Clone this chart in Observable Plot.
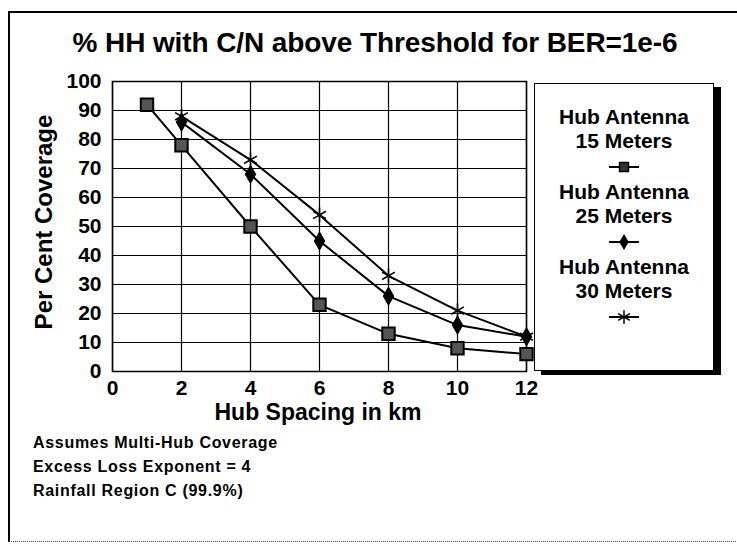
<!DOCTYPE html>
<html>
<head>
<meta charset="utf-8">
<script src="https://cdn.jsdelivr.net/npm/d3@7"></script>
<script src="https://cdn.jsdelivr.net/npm/@observablehq/plot@0.6"></script>
<style>
  html, body { margin: 0; padding: 0; background: #fff; }
  #wrap { position: relative; width: 737px; height: 546px; overflow: hidden;
          font-family: "Liberation Sans", Arial, sans-serif; font-weight: bold; color: #000; }
  #frame { position: absolute; left: 8px; top: 11px; width: 740px; height: 528px;
           border-left: 2px solid #000; border-top: 2px solid #000; border-bottom: 1px dotted #555; }
  #title { position: absolute; left: 0; width: 750px; top: 27px; text-align: center; font-size: 28px; letter-spacing: -0.1px; }
  #ylab { position: absolute; left: 44px; top: 222px; font-size: 24px; transform: translate(-50%, -50%) rotate(-90deg); white-space: nowrap; }
  #xlab { position: absolute; left: 318px; top: 399px; font-size: 23px; transform: translateX(-50%); white-space: nowrap; }
  #notes { position: absolute; left: 33px; top: 431px; font-size: 16px; line-height: 24px; letter-spacing: 0.7px; }
  #legend { position: absolute; left: 534px; top: 83px; width: 178px; height: 286px;
            border: 1.5px solid #000; box-shadow: 7px 4px 0 #000; background: #fff; text-align: center; font-size: 21px; }
  #legend .t { height: 24px; line-height: 24px; }
  #legend .m { height: 27px; display: flex; justify-content: center; align-items: center; }
  #chart { position: absolute; left: 0; top: 0; }
</style>
</head>
<body>
<div id="wrap">
  <div id="frame"></div>
  <div id="chart"></div>
  <div id="title"></div>
  <div id="ylab"></div>
  <div id="xlab"></div>
  <div id="notes"></div>
  <div id="legend"></div>
</div>
<script>
const titleText = "% HH with C/N above Threshold for BER=1e-6";
const xLabel = "Hub Spacing in km";
const yLabel = "Per Cent Coverage";
const notes = ["Assumes Multi-Hub Coverage", "Excess Loss Exponent = 4", "Rainfall Region C (99.9%)"];

const seriesNames = ["Hub Antenna 15 Meters", "Hub Antenna 25 Meters", "Hub Antenna 30 Meters"];
const legendLines = [["Hub Antenna", "15 Meters"], ["Hub Antenna", "25 Meters"], ["Hub Antenna", "30 Meters"]];

const x15 = [1, 2, 4, 6, 8, 10, 12];
const y15 = [92, 78, 50, 23, 13, 8, 6];
const x25 = [2, 4, 6, 8, 10, 12];
const y25 = [86, 68, 45, 26, 16, 12];
const x30 = [2, 4, 6, 8, 10, 12];
const y30 = [88, 73, 54, 33, 21, 12];

const xTicks = [0, 2, 4, 6, 8, 10, 12];
const yTicks = [0, 10, 20, 30, 40, 50, 60, 70, 80, 90, 100];

const mk = (xs, ys, s) => xs.map((x, i) => ({x, y: ys[i], s}));
const d15 = mk(x15, y15, seriesNames[0]);
const d25 = mk(x25, y25, seriesNames[1]);
const d30 = mk(x30, y30, seriesNames[2]);

const plot = Plot.plot({
  width: 737,
  height: 546,
  marginLeft: 112,
  marginRight: 211,
  marginTop: 81,
  marginBottom: 175,
  style: {fontFamily: "Liberation Sans, Arial, sans-serif", fontWeight: "bold", fontSize: "21px", color: "#000", background: "transparent"},
  x: {domain: [0, 12], ticks: xTicks, label: null},
  y: {domain: [0, 100], ticks: yTicks, label: null},
  marks: [
    Plot.gridX(xTicks, {stroke: "#000", strokeOpacity: 1, strokeWidth: 1.2}),
    Plot.gridY(yTicks, {stroke: "#000", strokeOpacity: 1, strokeWidth: 1.2}),
    Plot.frame({stroke: "#000", strokeWidth: 1.5}),
    Plot.axisX({ticks: xTicks, tickSize: 0, tickPadding: 9, fontSize: 21, fontWeight: "bold", label: null}),
    Plot.axisY({ticks: yTicks, tickSize: 0, tickPadding: 11, fontSize: 21, fontWeight: "bold", label: null}),
    Plot.line(d15, {x: "x", y: "y", stroke: "#000", strokeWidth: 2}),
    Plot.line(d25, {x: "x", y: "y", stroke: "#000", strokeWidth: 2}),
    Plot.line(d30, {x: "x", y: "y", stroke: "#000", strokeWidth: 2}),
    Plot.dot(d15, {x: "x", y: "y", symbol: "square", r: 7, fill: "#555", stroke: "#000", strokeWidth: 2}),
    Plot.dot(d25, {x: "x", y: "y", symbol: "diamond", r: 5.5, fill: "#000", stroke: "#000", strokeWidth: 1}),
    Plot.dot(d30, {x: "x", y: "y", symbol: "asterisk", r: 7, fill: "none", stroke: "#000", strokeWidth: 1.6})
  ]
});
document.getElementById("chart").appendChild(plot);

document.getElementById("title").textContent = titleText;
document.getElementById("ylab").textContent = yLabel;
document.getElementById("xlab").textContent = xLabel;
document.getElementById("notes").innerHTML = notes.map(n => `<div>${n}</div>`).join("");

// Legend
const symbols = [
  {type: d3.symbolSquare, size: 80, fill: "#333", stroke: "#000", sw: 1.5},
  {type: d3.symbolDiamond, size: 60, fill: "#000", stroke: "#000", sw: 1},
  {type: d3.symbolAsterisk, size: 130, fill: "none", stroke: "#000", sw: 1.5}
];
const leg = document.getElementById("legend");
const pad = document.createElement("div");
pad.style.height = "21px";
leg.appendChild(pad);
legendLines.forEach((lines, i) => {
  lines.forEach(t => {
    const d = document.createElement("div");
    d.className = "t";
    d.textContent = t;
    leg.appendChild(d);
  });
  const m = document.createElement("div");
  m.className = "m";
  const svg = d3.create("svg").attr("width", 40).attr("height", 20);
  svg.append("line").attr("x1", 5).attr("x2", 35).attr("y1", 10).attr("y2", 10).attr("stroke", "#000").attr("stroke-width", 2);
  const s = symbols[i];
  svg.append("path").attr("transform", "translate(20,10)")
    .attr("d", d3.symbol(s.type, s.size)())
    .attr("fill", s.fill).attr("stroke", s.stroke).attr("stroke-width", s.sw);
  m.appendChild(svg.node());
  leg.appendChild(m);
});
</script>
</body>
</html>
